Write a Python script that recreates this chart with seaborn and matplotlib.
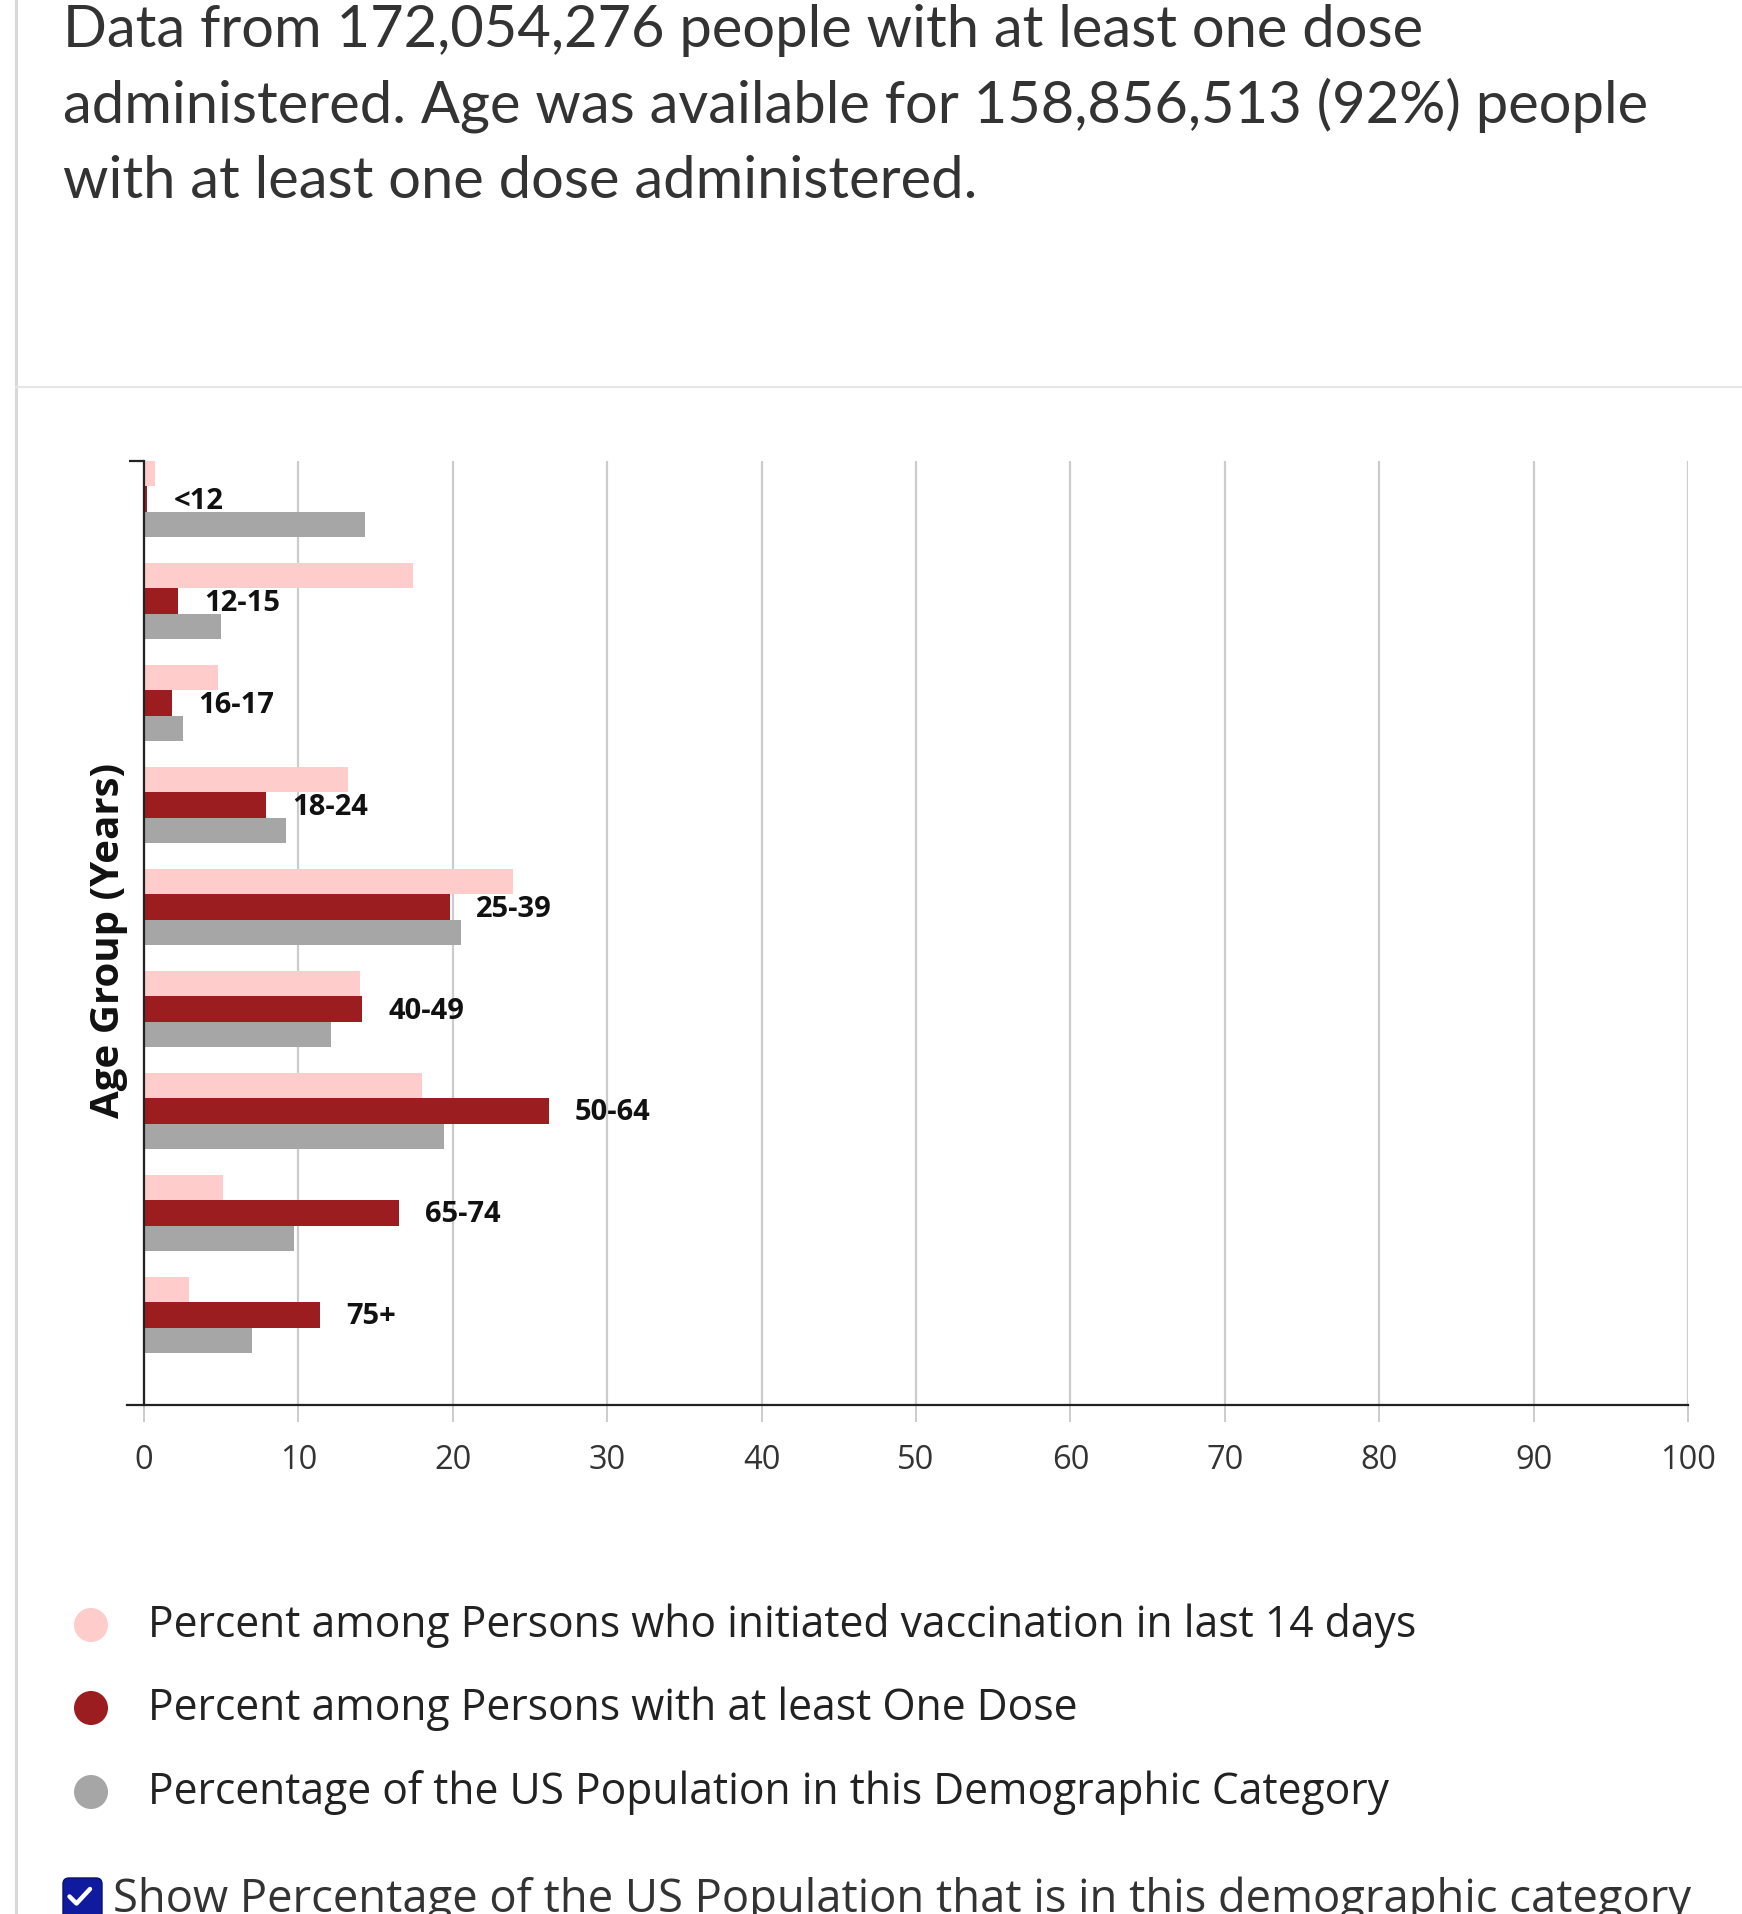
import numpy as np
import pandas as pd
import matplotlib
matplotlib.use("Agg")
import matplotlib.pyplot as plt
from matplotlib.patches import FancyBboxPatch
import seaborn as sns

# Dados (percentuais por faixa etária)
age_groups = ['<12', '12-15', '16-17', '18-24', '25-39', '40-49', '50-64', '65-74', '75+']
pct_last_14_days = [0.7, 17.4, 4.8, 13.2, 23.9, 14.0, 18.0, 5.1, 2.9]
pct_one_dose = [0.2, 2.2, 1.8, 7.9, 19.8, 14.1, 26.2, 16.5, 11.4]
pct_us_population = [14.3, 5.0, 2.5, 9.2, 20.5, 12.1, 19.4, 9.7, 7.0]

series_names = [
    'Percent among Persons who initiated vaccination in last 14 days',
    'Percent among Persons with at least One Dose',
    'Percentage of the US Population in this Demographic Category',
]
series_colors = ['#ffcccc', '#9b1d20', '#a6a6a6']
x_ticks = list(range(0, 101, 10))

header_lines = [
    'Data from 172,054,276 people with at least one dose',
    'administered. Age was available for 158,856,513 (92%) people',
    'with at least one dose administered.',
]
checkbox_text = 'Show Percentage of the US Population that is in this demographic category'

sns.set_theme(style='white')
plt.rcParams['font.family'] = ['Open Sans', 'DejaVu Sans']

df = pd.DataFrame({
    'age': age_groups,
    series_names[0]: pct_last_14_days,
    series_names[1]: pct_one_dose,
    series_names[2]: pct_us_population,
})
df_long = df.melt(id_vars='age', var_name='series', value_name='value')

W, H = 1742, 1914
fig = plt.figure(figsize=(W / 100, H / 100), dpi=100)
fig.patch.set_facecolor('white')

# --- camada de fundo em pixels (texto, separadores, legenda) ---
bg = fig.add_axes([0, 0, 1, 1])
bg.set_xlim(0, W)
bg.set_ylim(H, 0)
bg.axis('off')

bg.plot([16, 16], [0, H], color='#d9d9d9', lw=2.2)
bg.plot([16, W], [387, 387], color='#e6e6e6', lw=1.6)

for i, linha in enumerate(header_lines):
    bg.text(63, 47 + i * 75.5, linha, fontsize=41.7, family=['Lato', 'DejaVu Sans'],
            color='#333333', va='baseline', ha='left')

legend_y = [1625, 1708, 1792]
for nome, cor, yy in zip(series_names, series_colors, legend_y):
    bg.scatter([91], [yy], s=600, color=cor, edgecolors='none')
    bg.text(148, yy + 12, nome, fontsize=30.7, color='#222222', va='baseline', ha='left')

# caixa de seleção (marcada)
box = FancyBboxPatch((63, 1878), 39, 48, boxstyle='round,pad=0,rounding_size=6',
                     facecolor='#0f1a9e', edgecolor='#08106e', lw=1)
bg.add_patch(box)
bg.plot([69.5, 76.5, 90], [1896.5, 1903.5, 1889], color='white', lw=3.2,
        solid_capstyle='round', solid_joinstyle='round')
bg.text(113, 1912, checkbox_text, fontsize=32.7, color='#333333', va='baseline', ha='left')

# --- gráfico de barras ---
left_px, right_px, top_px, bottom_px = 127, 1688, 461, 1405
ax = fig.add_axes([left_px / W, 1 - bottom_px / H, (right_px - left_px) / W, (bottom_px - top_px) / H])
ax.patch.set_alpha(0)

sns.barplot(data=df_long, x='value', y='age', hue='series', orient='h',
            palette=series_colors, width=0.75, saturation=1, linewidth=0,
            legend=False, ax=ax)

ax.set_xlim(-1.1, 100)
y_top, y_bottom = -0.375, len(age_groups) - 1 + 0.885
ax.set_ylim(y_bottom, y_top)

ax.set_xticks(x_ticks)
ax.set_xticklabels([str(t) for t in x_ticks])
ax.xaxis.grid(True, color='#cccccc', lw=1.6)
ax.yaxis.grid(False)
ax.set_axisbelow(True)
ax.tick_params(axis='x', length=12, width=1.4, color='#cccccc', pad=16,
               labelsize=23.5, labelcolor='#333333', bottom=True)

ax.set_yticks([y_top])
ax.set_yticklabels([''])
ax.tick_params(axis='y', length=11, width=1.6, color='#222222', left=True)

for lado in ['top', 'right']:
    ax.spines[lado].set_visible(False)
ax.spines['left'].set_position(('data', 0))
ax.spines['left'].set_color('#222222')
ax.spines['left'].set_linewidth(1.6)
ax.spines['bottom'].set_color('#222222')
ax.spines['bottom'].set_linewidth(1.6)
ax.set_xlabel('')
ax.set_ylabel('')

# rótulos das faixas etárias à direita da barra vermelha
for i, (grupo, valor) in enumerate(zip(age_groups, pct_one_dose)):
    ax.annotate(grupo, xy=(valor, i), xytext=(19, -1.5), textcoords='offset points',
                va='center', ha='left', fontsize=21, fontweight='bold', color='#111111')

fig.text(109 / W, 1 - 940 / H, 'Age Group (Years)', rotation=90, ha='center', va='center',
         fontsize=29, fontweight='bold', color='#111111')

fig.savefig('out.png', dpi=100, facecolor='white')
